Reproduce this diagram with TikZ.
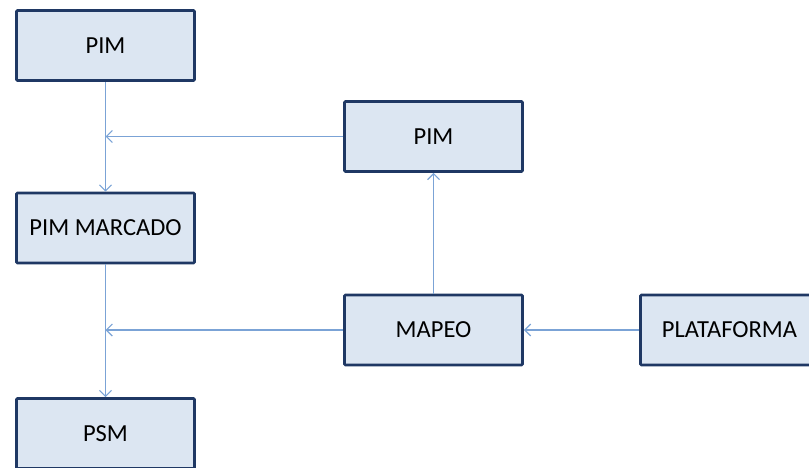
\documentclass[tikz,border=0pt]{standalone}
\usepackage{fontspec}
\setmainfont{Carlito}
\usetikzlibrary{arrows.meta}
\definecolor{boxfill}{HTML}{DCE6F2}
\definecolor{boxedge}{HTML}{1F3864}
\definecolor{linkcol}{HTML}{7BA3D6}
\begin{document}
\begin{tikzpicture}[x=1pt,y=1pt,
  block/.style={draw=boxedge, fill=boxfill, line width=2.6pt, rounded corners=1pt,
    minimum width=178pt, minimum height=70pt, inner sep=0pt,
    font=\fontsize{24.5}{28}\selectfont},
  link/.style={draw=linkcol, line width=1.4pt,
    -{Straight Barb[length=6pt,width=12pt,line width=1.2pt]}}]
\useasboundingbox (0,0) rectangle (809,-468);
\begin{scope}
\clip (0,0) rectangle (809,-468);
\node[block] (pima)  at (105.5,-45.5) {PIM};
\node[block] (marc)  at (105.5,-228)  {PIM MARCADO};
\node[block] (psm)   at (105.5,-433.5){PSM};
\node[block] (pimb)  at (433.5,-136.5){PIM};
\node[block] (mapeo) at (433.5,-330)  {MAPEO};
\node[block] (plat)  at (729.5,-330)  {PLATAFORMA};
\end{scope}
% joints on the left-hand column
\coordinate (ja) at (pima.south |- pimb.west);
\coordinate (jb) at (marc.south |- mapeo.west);
\draw[link] (pima.south) -- (marc.north);
\draw[link] (marc.south) -- (psm.north);
\draw[link] (pimb.west) -- (ja);
\draw[link] (mapeo.west) -- (jb);
\draw[link] (mapeo.north) -- (pimb.south);
\draw[link] (plat.west) -- (mapeo.east);
\end{tikzpicture}
\end{document}
